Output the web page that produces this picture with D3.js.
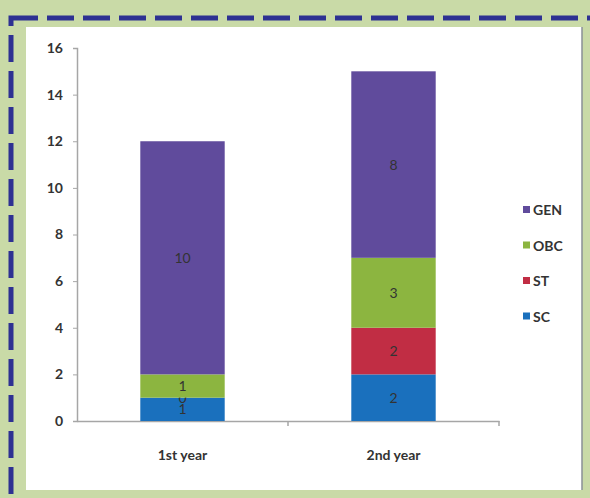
<!DOCTYPE html>
<html>
<head>
<meta charset="utf-8">
<script src="https://cdn.jsdelivr.net/npm/d3@7"></script>
<style>
  html, body { margin: 0; padding: 0; background: #c8d9a6; }
  svg { display: block; }
  text { font-family: Lato, "Liberation Sans Narrow", sans-serif; fill: #333; }
</style>
</head>
<body>
<svg id="chart" width="590" height="498"></svg>
<script>
// chart data
const years = ['1st year', '2nd year'];
const groups = ['SC', 'ST', 'OBC', 'GEN'];
const scValues = [1, 2];
const stValues = [0, 2];
const obcValues = [1, 3];
const genValues = [10, 8];
const yTicks = [0, 2, 4, 6, 8, 10, 12, 14, 16];

const colors = d3.scaleOrdinal()
  .domain(groups)
  .range(['#1a70bd', '#c12d44', '#8cb540', '#604b9c']);

const svg = d3.select('#chart');
const W = 590, H = 498;

// green page background + dashed frame
svg.append('rect').attr('width', W).attr('height', H).attr('fill', '#c9daa7');
svg.append('rect')
  .attr('x', 11).attr('y', 18).attr('width', 600).attr('height', 520)
  .attr('fill', 'none').attr('stroke', '#2e3192').attr('stroke-width', 5)
  .attr('stroke-dasharray', '27,9');

// white chart panel
svg.append('rect')
  .attr('x', 26).attr('y', 27).attr('width', 556).attr('height', 463)
  .attr('fill', '#fff');
svg.append('line')
  .attr('x1', 582).attr('x2', 582).attr('y1', 27).attr('y2', 490)
  .attr('stroke', '#8a8f96').attr('stroke-width', 1.5);

const margin = { left: 77, right: 499, top: 48, bottom: 421 };

const x = d3.scaleBand()
  .domain(years)
  .range([margin.left, margin.right])
  .paddingInner(0.6)
  .paddingOuter(0.3);

const y = d3.scaleLinear()
  .domain([0, 16])
  .range([margin.bottom, margin.top]);

const table = years.map((yr, i) => ({
  year: yr, SC: scValues[i], ST: stValues[i], OBC: obcValues[i], GEN: genValues[i]
}));
const series = d3.stack().keys(groups)(table);

// y axis
const yAxis = svg.append('g')
  .attr('transform', `translate(${margin.left},0)`)
  .call(d3.axisLeft(y).tickValues(yTicks).tickSize(4).tickPadding(10));
yAxis.select('.domain').attr('stroke', '#a6a6a6').attr('stroke-width', 1.5);
yAxis.selectAll('.tick line').attr('stroke', '#a6a6a6');
yAxis.selectAll('.tick text')
  .style('font-family', 'Lato, sans-serif')
  .style('font-size', '14px').style('font-weight', 'bold').attr('fill', '#3a3a3a');

// x axis
const xAxis = svg.append('g')
  .attr('transform', `translate(0,${margin.bottom})`)
  .call(d3.axisBottom(x).tickSize(0).tickPadding(29));
xAxis.select('.domain').attr('stroke', '#a6a6a6').attr('stroke-width', 1.5);
xAxis.selectAll('.tick text')
  .style('font-family', 'Lato, sans-serif')
  .style('font-size', '14px').style('font-weight', 'bold').attr('fill', '#3a3a3a');
// category boundary ticks
xAxis.selectAll('.bound')
  .data(years)
  .join('line')
  .attr('x1', d => x(d) + x.bandwidth() + x.step() * 0.3)
  .attr('x2', d => x(d) + x.bandwidth() + x.step() * 0.3)
  .attr('y1', 0).attr('y2', 5)
  .attr('stroke', '#a6a6a6').attr('stroke-width', 1.5);

// stacked bars
const layer = svg.append('g').selectAll('g')
  .data(series)
  .join('g')
  .attr('fill', d => colors(d.key));

layer.selectAll('rect')
  .data(d => d)
  .join('rect')
  .attr('x', d => x(d.data.year))
  .attr('width', x.bandwidth())
  .attr('y', d => y(d[1]))
  .attr('height', d => y(d[0]) - y(d[1]));

// value labels (first-year small segments overlap, as in the original)
layer.selectAll('text')
  .data(d => d.map(v => Object.assign({ key: d.key }, v)))
  .join('text')
  .attr('x', d => x(d.data.year) + x.bandwidth() / 2)
  .attr('y', d => (y(d[0]) + y(d[1])) / 2)
  .attr('dy', '0.36em')
  .attr('text-anchor', 'middle')
  .style('font-size', '14px')
  .attr('fill', d => d3.color(colors(d.key)).darker(2.6))
  .text(d => d[1] - d[0]);

// legend
const legend = svg.append('g').selectAll('g')
  .data(groups.slice().reverse())
  .join('g')
  .attr('transform', (d, i) => `translate(523,${210 + i * 35.5})`);
legend.append('rect')
  .attr('x', 0).attr('y', -4).attr('width', 7).attr('height', 7)
  .attr('fill', d => colors(d));
legend.append('text')
  .attr('x', 10).attr('dy', '0.36em')
  .style('font-size', '14px').style('font-weight', 'bold').attr('fill', '#3a3a3a')
  .text(d => d);
</script>
</body>
</html>
